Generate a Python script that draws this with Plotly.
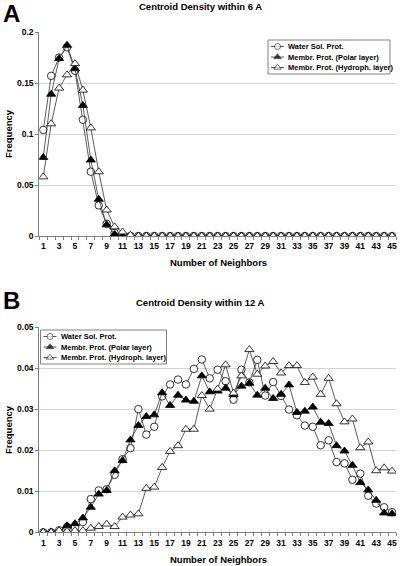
import plotly.graph_objects as go

neighbors = list(range(1, 46))

# Panel A: Centroid density within 6 A
a_water = [0.104, 0.157, 0.175, 0.185, 0.162, 0.114, 0.063, 0.030, 0.012, 0.003, 0.0007, 0.0001] + [0.0] * 33
a_polar = [0.077, 0.139, 0.174, 0.187, 0.164, 0.128, 0.0745, 0.036, 0.011, 0.0017, 0.0, 0.0] + [0.0] * 33
a_hydro = [0.058, 0.110, 0.145, 0.158, 0.169, 0.143, 0.106, 0.063, 0.0255, 0.009, 0.004, 0.0008] + [0.0] * 33

# Panel B: Centroid density within 12 A
b_water = [0.0, 0.0, 0.0005, 0.0013, 0.0012, 0.0025, 0.0081, 0.0102, 0.0105, 0.0140,
           0.0178, 0.0205, 0.0300, 0.0238, 0.0257, 0.0331, 0.0360, 0.0372, 0.0360, 0.0398,
           0.0421, 0.0375, 0.0396, 0.0368, 0.0323, 0.0396, 0.0365, 0.0420, 0.0333, 0.0366,
           0.0332, 0.0299, 0.0285, 0.0260, 0.0257, 0.0212, 0.0224, 0.0171, 0.0168, 0.0128,
           0.0143, 0.0089, 0.0070, 0.0061, 0.0049]
b_polar = [0.0, 0.0001, 0.0003, 0.0016, 0.0021, 0.0035, 0.0061, 0.0093, 0.0102, 0.0150,
           0.0175, 0.0225, 0.0260, 0.0282, 0.0286, 0.0340, 0.0309, 0.0334, 0.0322, 0.0319,
           0.0381, 0.0342, 0.0344, 0.0351, 0.0335, 0.0356, 0.0363, 0.0334, 0.0351, 0.0326,
           0.0336, 0.0359, 0.0292, 0.0295, 0.0305, 0.0268, 0.0265, 0.0211, 0.0198, 0.0163,
           0.0121, 0.0103, 0.0078, 0.0047, 0.0045]
b_hydro = [0.0, 0.0, 0.0004, 0.0002, 0.0004, 0.0004, 0.0010, 0.0014, 0.0020, 0.0014,
           0.0037, 0.0042, 0.0045, 0.0107, 0.0110, 0.0158, 0.0197, 0.0211, 0.0251, 0.0251,
           0.0333, 0.0300, 0.0349, 0.0408, 0.0339, 0.0381, 0.0445, 0.0385, 0.0405, 0.0416,
           0.0388, 0.0406, 0.0406, 0.0365, 0.0378, 0.0336, 0.0375, 0.0313, 0.0269, 0.0276,
           0.0206, 0.0220, 0.0150, 0.0157, 0.0149]

x_ticks = list(range(1, 46, 2))
a_yticks = [0, 0.05, 0.1, 0.15, 0.2]
a_yticklabels = ["0", "0.05", "0.1", "0.15", "0.2"]
b_yticks = [0, 0.01, 0.02, 0.03, 0.04, 0.05]
b_yticklabels = ["0", "0.01", "0.02", "0.03", "0.04", "0.05"]

series_names = ["Water Sol. Prot.", "Membr. Prot. (Polar layer)", "Membr. Prot. (Hydroph. layer)"]

W, H = 400, 566
FONT = "Liberation Sans"

def py(pix):
    return 1 - pix / H

fig = go.Figure()

styles = [
    dict(symbol="circle", color="white", size=7.5),
    dict(symbol="triangle-up", color="black", size=8),
    dict(symbol="triangle-up", color="white", size=8),
]

def add_panel(ydata, xa, ya):
    for name, y, st in zip(series_names, ydata, styles):
        fig.add_trace(go.Scatter(
            x=neighbors, y=y, name=name, mode="lines+markers",
            xaxis=xa, yaxis=ya, showlegend=False,
            line=dict(color="#333333", width=0.8),
            marker=dict(symbol=st["symbol"], color=st["color"], size=st["size"],
                        line=dict(color="black", width=0.8)),
        ))

add_panel([a_water, a_polar, a_hydro], "x", "y")
add_panel([b_water, b_polar, b_hydro], "x2", "y2")

tfont = dict(family=FONT, size=8.5, color="black", weight="bold")

xdom = [39.3 / W, 396 / W]
common_x = dict(
    range=[0.5, 45.5], tickmode="array", tickvals=x_ticks, ticktext=[str(v) for v in x_ticks],
    ticks="", showgrid=False, zeroline=False, showline=True, linecolor="#808080", linewidth=1,
    tickfont=tfont, automargin=False,
    minor=dict(tick0=0.5, dtick=1, ticks="outside", ticklen=3, tickcolor="#808080", showgrid=False),
    domain=xdom, fixedrange=True, ticklabelstandoff=2,
)
common_y = dict(
    tickmode="array", showgrid=True, gridcolor="#d4d4d4", gridwidth=1, zeroline=False,
    showline=True, linecolor="#808080", linewidth=1, ticks="outside", ticklen=3, tickcolor="#808080",
    tickfont=tfont, automargin=False, fixedrange=True,
)

# Legend geometry (pixels): box left, top, width, height
LEG_A = (268, 40, 122, 34)
LEG_B = (40.5, 330, 126, 34)
ROW_OFF = [6.5, 17, 27.5]
SAMPLE_X = [3, 9.5, 16]
TEXT_X = 18

def leg_axes(box):
    left, top, w, h = box
    xd = [left / W, (left + w) / W]
    yd = [py(top + h), py(top)]
    ax_x = dict(domain=xd, range=[0, w], visible=False, automargin=False, fixedrange=True)
    ax_y = dict(domain=yd, range=[h, 0], visible=False, automargin=False, fixedrange=True)
    return ax_x, ax_y

lax3, lay3 = leg_axes(LEG_A)
lax4, lay4 = leg_axes(LEG_B)

fig.update_layout(
    width=W, height=H, margin=dict(l=0, r=0, t=0, b=0, autoexpand=False),
    paper_bgcolor="white", plot_bgcolor="white", showlegend=False,
    xaxis=dict(common_x, anchor="y"),
    xaxis2=dict(common_x, anchor="y2"),
    yaxis=dict(common_y, range=[0, 0.2], tickvals=a_yticks, ticktext=a_yticklabels,
               domain=[py(236), py(32)], anchor="x"),
    yaxis2=dict(common_y, range=[0, 0.05], tickvals=b_yticks, ticktext=b_yticklabels,
                domain=[py(532.3), py(327)], anchor="x2"),
    xaxis3=dict(lax3, anchor="y3"), yaxis3=dict(lay3, anchor="x3"),
    xaxis4=dict(lax4, anchor="y4"), yaxis4=dict(lay4, anchor="x4"),
)

def add_legend(box, xa, ya):
    left, top, w, h = box
    fig.add_shape(type="rect", xref="paper", yref="paper",
                  x0=left / W, x1=(left + w) / W, y0=py(top + h), y1=py(top),
                  line=dict(color="#808080", width=1), fillcolor="rgba(0,0,0,0)", layer="above")
    for name, st, off in zip(series_names, styles, ROW_OFF):
        fig.add_trace(go.Scatter(
            x=SAMPLE_X, y=[off] * 3, mode="lines+markers", xaxis=xa, yaxis=ya,
            showlegend=False, hoverinfo="skip", cliponaxis=False,
            line=dict(color="#333333", width=0.8),
            marker=dict(symbol=st["symbol"], color=st["color"], size=[0, st["size"] - 1.5, 0],
                        line=dict(color="black", width=0.8)),
        ))
        fig.add_annotation(text=name, x=TEXT_X, y=off, xref=xa, yref=ya, showarrow=False,
                           xanchor="left", yanchor="middle",
                           font=dict(family=FONT, size=7.5, color="black", weight="bold"))

add_legend(LEG_A, "x3", "y3")
add_legend(LEG_B, "x4", "y4")

def ann(text, x, y, size, angle=0, xanchor="center"):
    fig.add_annotation(text=text, x=x / W, y=py(y), xref="paper", yref="paper",
                       showarrow=False, textangle=angle, xanchor=xanchor, yanchor="middle",
                       font=dict(family=FONT, size=size, color="black", weight="bold"))

ann("A", 1, 13, 24, xanchor="left")
ann("B", 1, 300, 24, xanchor="left")
ann("Centroid Density within 6 A", 201, 7, 9.5)
ann("Centroid Density within 12 A", 201, 302, 9.5)
ann("Number of Neighbors", 218, 262, 9.5)
ann("Number of Neighbors", 218, 559, 9.5)
ann("Frequency", 8, 134, 9.5, angle=-90)
ann("Frequency", 8, 430, 9.5, angle=-90)

fig.write_html(
    "out.html",
    config={"displayModeBar": False},
    post_script="document.body.style.margin='0';document.body.style.overflow='hidden';",
)
